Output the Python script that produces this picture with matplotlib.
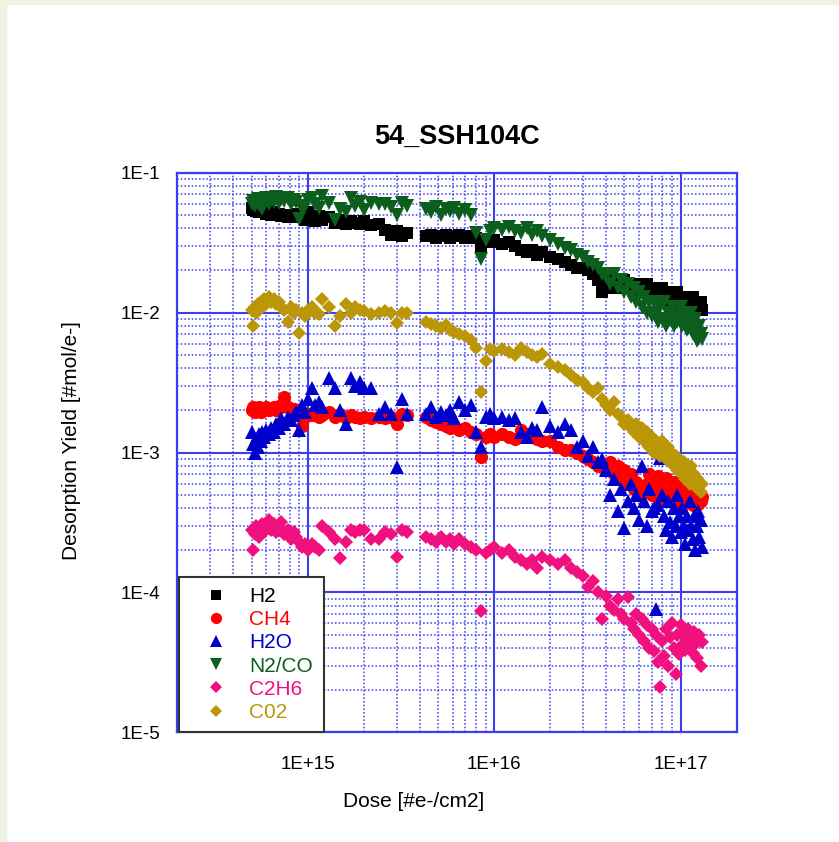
import numpy as np
import matplotlib
matplotlib.use('Agg')
import matplotlib.pyplot as plt
from matplotlib.ticker import LogLocator, FixedLocator, FuncFormatter, NullFormatter
from matplotlib.patches import Rectangle

plt.rcParams['font.family'] = ['Liberation Sans', 'DejaVu Sans']

# dose in units of 1e15 e-/cm2 (same dose points for every mass)
dose = [0.50, 0.51, 0.52, 0.53, 0.54, 0.55, 0.56, 0.57, 0.58, 0.60, 0.62,
        0.64, 0.66, 0.68, 0.70, 0.72, 0.75, 0.78, 0.81, 0.84, 0.87, 0.90,
        0.93, 0.97, 1.0, 1.05, 1.1, 1.15, 1.2, 1.3, 1.4, 1.5, 1.6,
        1.7, 1.8, 1.9, 2.0, 2.2, 2.4, 2.6, 2.8, 3.0, 3.2, 3.4,
        4.3, 4.6, 4.9, 5.2, 5.5, 5.8, 6.1, 6.5, 7.0, 7.5, 8.0, 8.5, 9.0, 9.5,
        10, 11, 12, 13, 14, 15, 16, 17, 18, 20, 22, 24, 26, 28, 30, 32, 34, 36, 38,
        40, 42, 44, 46, 48, 50, 52, 54, 56, 58, 60, 62, 64, 66, 68, 70, 72, 74,
        76, 78, 80, 82, 84, 86, 88, 90, 92, 94, 96, 98, 100, 102, 104, 106, 108,
        110, 112, 114, 116, 118, 120, 122, 124, 126, 128, 130]

# yields in units of 1e-3 mol/e- (C2H6 in 1e-5)
h2 = [56, 54, 57, 53, 55, 52, 55, 53, 54, 51, 53, 50, 52, 50, 51, 49, 50, 48, 50, 49, 51, 48,
      50, 46, 52, 47, 45, 49, 46, 48, 44, 46, 43, 45, 44, 43, 45, 42, 43, 39, 36, 38, 35, 37,
      35, 36, 34, 35, 36, 34, 35, 36, 34, 35, 34, 30, 33, 32, 33, 31, 32, 30, 28, 27, 28, 26, 27,
      25, 24, 23, 22, 21, 21, 20, 19, 17, 14,
      17, 15, 17, 16, 15, 17, 16, 15, 16, 14, 16, 15, 14, 16, 14, 15, 13, 15, 14, 13, 15, 14, 13,
      14, 12, 14, 13, 12, 14, 12, 13, 11.5, 13, 11, 13, 12, 11, 12.5, 13, 11, 12, 10.5, 12, 11, 12, 10.5]

ch4 = [2.0, 2.1, 1.95, 2.05, 2.0, 2.1, 1.95, 2.05, 2.0, 2.1, 2.0, 2.05, 2.1, 2.0, 2.15, 2.1, 2.5, 2.1,
       2.0, 2.05, 1.9, 2.0,
       1.55, 1.8, 1.9, 1.85, 1.9, 1.8, 1.85, 1.95, 1.8, 1.9, 1.75, 1.85, 1.8, 1.75, 1.8, 1.75, 1.8,
       1.75, 1.8, 1.6, 1.9, 1.85,
       1.8, 1.7, 1.65, 1.6, 1.55, 1.5, 1.55, 1.45, 1.5, 1.4, 1.35, 0.93, 1.3, 1.35,
       1.3, 1.35, 1.3, 1.25, 1.45, 1.35, 1.3, 1.25, 1.2, 1.2, 1.1, 1.05, 1.05, 1.0, 0.95, 0.9, 0.85,
       0.8, 0.8,
       0.78, 0.85, 0.7, 0.8, 0.65, 0.75, 0.6, 0.7, 0.55, 0.62, 0.5, 0.58, 0.52, 0.6, 0.7, 0.5, 0.65,
       0.55, 0.68, 0.45, 0.6, 0.5, 0.66, 0.45, 0.58, 0.5, 0.62, 0.44, 0.55, 0.48, 0.6, 0.42, 0.52,
       0.46, 0.58, 0.44, 0.5, 0.55, 0.42, 0.5, 0.47, 0.53, 0.43, 0.5, 0.45, 0.48]

h2o = [1.4, 1.15, 1.0, 1.25, 1.1, 1.35, 1.2, 1.4, 1.3, 1.45, 1.35, 1.5, 1.4, 1.6, 1.5, 1.75, 1.6,
       1.8, 1.7, 1.85, 1.95, 1.45,
       2.2, 1.95, 2.4, 2.9, 2.2, 2.3, 2.1, 3.4, 2.9, 2.0, 1.6, 3.4, 3.0, 3.2, 2.9, 2.9, 1.9, 2.1,
       1.9, 0.79, 2.4, 1.9,
       1.9, 2.1, 1.8, 1.95, 1.85, 2.0, 1.75, 2.3, 2.0, 2.2, 1.4, 1.1, 1.8, 1.9,
       1.75, 1.8, 1.7, 1.75, 1.4, 1.3, 1.5, 1.45, 2.1, 1.55, 1.4, 1.6, 1.45, 1.1, 1.2, 0.95, 1.1,
       0.85, 0.9,
       0.75, 0.5, 0.65, 0.38, 0.55, 0.29, 0.45, 0.6, 0.4, 0.5, 0.33, 0.8, 0.45, 0.3, 0.55, 0.38,
       0.4, 0.076, 0.42, 0.91, 0.5, 0.35, 0.28, 0.45, 0.32, 0.25, 0.4, 0.3, 0.5, 0.35, 0.27, 0.4,
       0.3, 0.22, 0.35, 0.28, 0.45, 0.3, 0.24, 0.35, 0.2, 0.3, 0.38, 0.25, 0.33, 0.21]

n2co = [60, 63, 58, 62, 65, 59, 61, 55, 63, 66, 60, 64, 62, 67, 61, 65, 63, 66, 60, 64, 62, 47,
        55, 58, 64, 66, 60, 56, 68, 61, 46, 55, 52, 66, 58, 62, 54, 61, 60, 60, 57, 50, 61, 58,
        55, 52, 57, 50, 55, 53, 56, 51, 54, 50, 37, 24, 33, 38,
        40, 39, 41, 38, 37, 40, 36, 38, 35, 33, 31, 29, 28, 26, 25, 23, 22, 21, 19,
        18, 16, 19, 15, 17, 14, 16, 13, 15, 12, 14, 11, 13, 10, 12, 9.5, 12, 10, 8.5, 11, 9, 12, 8,
        10, 9, 11, 8, 10, 8.5, 9.5, 11, 8, 9, 10, 7.5, 9, 8, 10, 7, 8.5, 9, 6.3, 6.5, 8, 7, 6.5]

c2h6 = [28, 20, 26, 30, 27, 25, 29, 31, 27, 30, 33, 28, 31, 27, 29, 32, 26, 28, 24, 27, 25, 23,
        21, 22, 20, 22, 21, 20, 30, 27, 24, 17.5, 23, 28, 27, 28, 28, 24, 24, 27, 26, 18, 28, 27,
        25, 24, 23, 25, 23, 24, 22, 24, 22, 21, 20, 7.4, 19, 20,
        21, 19, 20, 18, 17, 16, 17, 15, 18, 17, 16, 17, 15, 14, 13, 11, 12, 10, 6.5,
        9.5, 8.0, 7.5, 9.0, 7.0, 6.5, 9.3, 6.0, 5.5, 7.0, 5.0, 6.5, 4.5, 5.8, 4.0, 5.5, 3.8, 5.0,
        3.2, 2.1, 4.5, 3.5, 5.5, 3.0, 4.8, 6.0, 4.0, 2.6, 5.0, 3.6, 5.8, 4.2, 5.2, 3.9, 4.6, 5.5,
        4.0, 4.8, 3.7, 5.2, 4.3, 3.4, 4.6, 5.0, 3.0, 4.4]

co2 = [10.5, 8.0, 11, 10, 11.5, 10.5, 12, 11, 12.5, 11.5, 13, 12, 12.5, 11.5, 12, 11, 10.5, 8.5,
       11, 10, 10.5, 7.2,
       10, 9.5, 10.5, 11, 10, 9.8, 12.5, 11, 8.0, 9.5, 11.5, 10, 11, 10.5, 10.2, 9.8, 10, 10.2,
       10, 8.4, 10, 10,
       8.5, 8.3, 8.0, 7.8, 8.2, 7.5, 7.3, 7.0, 6.8, 6.4, 5.6, 2.7, 4.5, 5.5,
       5.3, 5.5, 5.2, 5.0, 5.6, 5.2, 5.0, 4.8, 5.1, 4.3, 4.1, 3.9, 3.6, 3.3, 3.2, 2.9, 2.7, 2.9, 2.4,
       2.2, 2.0, 2.3, 1.9, 1.8, 1.6, 1.7, 1.5, 1.4, 1.6, 1.3, 1.5, 1.2, 1.4, 1.1, 1.3, 1.0, 1.2,
       1.1, 0.95, 1.2, 1.0, 0.9, 1.1, 0.85, 1.0, 0.8, 0.95, 0.75, 0.9, 0.8, 0.7, 0.85, 0.65, 0.75,
       0.7, 0.6, 0.8, 0.62, 0.7, 0.58, 0.66, 0.55, 0.62, 0.52, 0.6]

names = ['H2', 'CH4', 'H2O', 'N2/CO', 'C2H6', 'C02']
colors = ['#000000', '#ff0000', '#0000cc', '#0b5e1c', '#f0107e', '#bb9708']
markers = ['s', 'o', '^', 'v', 'D', 'D']
sizes = [8.5, 9.5, 10, 10, 7.5, 7.5]

x = np.array(dose) * 1e15
ys = [np.array(h2) * 1e-3, np.array(ch4) * 1e-3, np.array(h2o) * 1e-3,
      np.array(n2co) * 1e-3, np.array(c2h6) * 1e-5, np.array(co2) * 1e-3]

W, H = 839, 842
fig = plt.figure(figsize=(W / 100, H / 100), dpi=100)
fig.patch.set_facecolor('white')
# thin coloured edge of the original screenshot
fig.patches.append(Rectangle((0, 0), 6 / W, 1, transform=fig.transFigure,
                             color='#eef2e3', zorder=0))
fig.patches.append(Rectangle((0, 1 - 4 / H), 1, 4 / H, transform=fig.transFigure,
                             color='#eef2e3', zorder=0))

ax = fig.add_axes([177.3 / W, (H - 732.3) / H, 559.4 / W, 559.6 / H])
ax.set_xscale('log')
ax.set_yscale('log')
ax.set_xlim(2e14, 2e17)
ax.set_ylim(1e-5, 1e-1)

for y, name, c, m, ms in zip(ys, names, colors, markers, sizes):
    ax.plot(x, y, ls='none', marker=m, ms=ms, color=c, mew=0, label=name)

blue = '#3c3cf0'
ax.xaxis.set_major_locator(FixedLocator([1e15, 1e16, 1e17]))
ax.yaxis.set_major_locator(FixedLocator([1e-5, 1e-4, 1e-3, 1e-2, 1e-1]))
ax.xaxis.set_minor_locator(LogLocator(base=10, subs=np.arange(2, 10), numticks=30))
ax.yaxis.set_minor_locator(LogLocator(base=10, subs=np.arange(2, 10), numticks=30))
ax.xaxis.set_minor_formatter(NullFormatter())
ax.yaxis.set_minor_formatter(NullFormatter())
ax.xaxis.set_major_formatter(FuncFormatter(lambda v, p: '1E+%d' % round(np.log10(v))))
ax.yaxis.set_major_formatter(FuncFormatter(lambda v, p: '1E%d' % round(np.log10(v))))

ax.set_axisbelow(True)
ax.grid(which='major', color=blue, lw=1.5, ls='-')
ax.grid(which='minor', color='#4848f2', lw=1.15, ls=(0, (1, 1.3)))
for s in ax.spines.values():
    s.set_color(blue)
    s.set_linewidth(1.6)
ax.tick_params(which='both', length=0)
ax.tick_params(axis='y', labelsize=13.5, pad=12)
ax.tick_params(axis='x', labelsize=13.5, pad=17)

ax.set_title('54_SSH104C', fontsize=19.5, fontweight='bold', pad=21)
ax.set_xlabel('Dose [#e-/cm2]', fontsize=15, va='center')
ax.xaxis.set_label_coords(0.423, -0.123)
ax.set_ylabel('Desorption Yield [#mol/e-]', fontsize=15, va='center')
ax.yaxis.set_label_coords(-0.19, 0.522)

leg = ax.legend(loc='lower left', bbox_to_anchor=(0.003, 0.0), borderaxespad=0,
                fancybox=False, framealpha=1, edgecolor='#333333', fontsize=15,
                labelspacing=0.2, handlelength=2.6, handletextpad=0.28, borderpad=0.5,
                markerscale=0.85)
leg.get_frame().set_linewidth(1.5)
for t, c in zip(leg.get_texts(), colors):
    t.set_color(c)

fig.savefig('out.png', dpi=100)
plt.close(fig)
